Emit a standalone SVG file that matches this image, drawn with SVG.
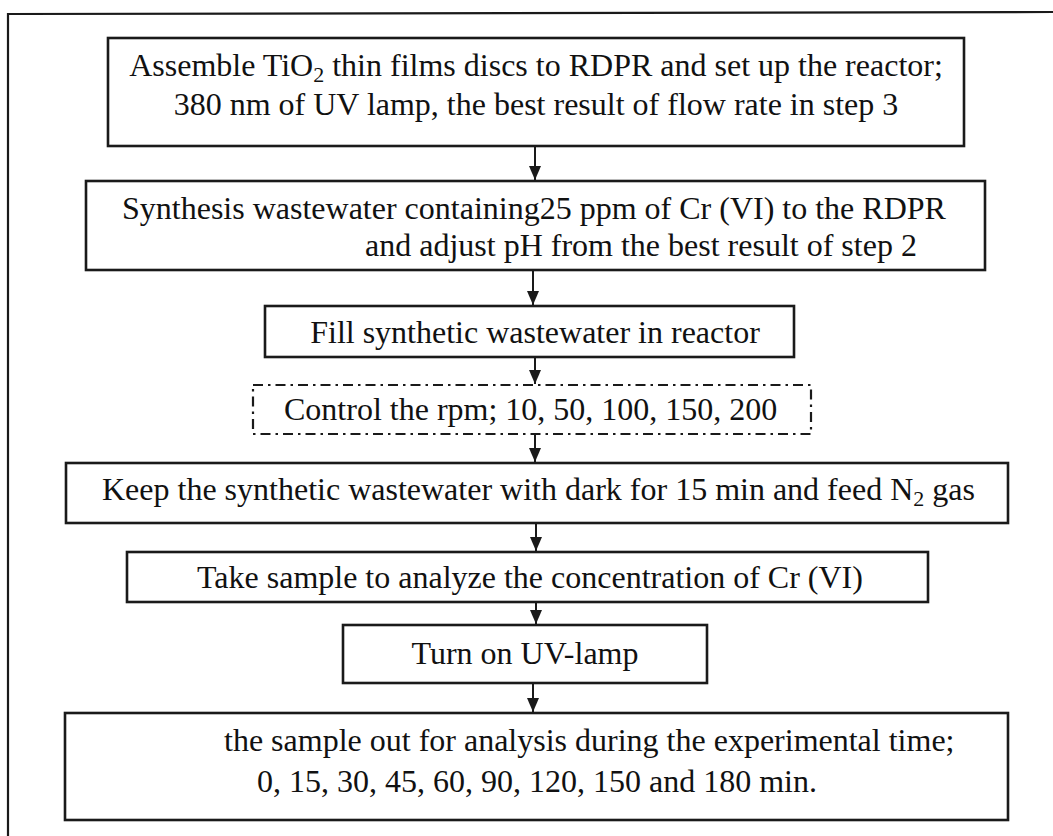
<svg xmlns="http://www.w3.org/2000/svg" width="1053" height="836" viewBox="0 0 1053 836">
  <style>
    .box { fill: #ffffff; stroke: #1a1a1a; stroke-width: 2.6; }
    .dash { fill: #ffffff; stroke: #1a1a1a; stroke-width: 2.2; stroke-dasharray: 10 5 2.5 5; }
    .frame { fill: none; stroke: #1a1a1a; stroke-width: 2.2; }
    .t { font-family: "Liberation Serif", "Times New Roman", serif; font-size: 32px; fill: #111111; }
    .c { text-anchor: middle; }
    .link { fill: none; stroke: #1a1a1a; stroke-width: 2; marker-end: url(#head); }
  </style>
  <defs>
    <!-- solid triangular arrowhead, tip at the end of the line -->
    <marker id="head" viewBox="0 0 14 12" refX="14" refY="6" markerWidth="14" markerHeight="12" markerUnits="userSpaceOnUse" orient="auto">
      <path d="M0,0 L14,6 L0,12 Z" fill="#1a1a1a"/>
    </marker>
  </defs>

  <rect width="1053" height="836" fill="#ffffff"/>

  <!-- page frame: top and left rules only -->
  <path class="frame" d="M8,836 L8,14 L1053,12"/>

  <g id="connectors">
    <line class="link" x1="535" y1="147" x2="535" y2="180"/>
    <line class="link" x1="533" y1="271" x2="533" y2="305"/>
    <line class="link" x1="535" y1="358" x2="535" y2="384"/>
    <line class="link" x1="535" y1="435" x2="535" y2="462"/>
    <line class="link" x1="536" y1="524" x2="536" y2="551"/>
    <line class="link" x1="536" y1="603" x2="536" y2="624"/>
    <line class="link" x1="533" y1="684" x2="533" y2="712"/>
  </g>

  <g id="step-assemble">
    <rect class="box" x="108" y="38" width="856" height="108"/>
    <text class="t c" x="536" y="76">Assemble TiO<tspan font-size="22" dy="6">2</tspan><tspan dy="-6"> thin films discs to RDPR and set up the reactor;</tspan></text>
    <text class="t c" x="536" y="115">380 nm of UV lamp, the best result of flow rate in step 3</text>
  </g>

  <g id="step-synthesis">
    <rect class="box" x="86" y="181" width="899" height="89"/>
    <text class="t" x="122" y="219">Synthesis wastewater containing25 ppm of Cr (VI) to the RDPR</text>
    <text class="t" x="365" y="256">and adjust pH from the best result of step 2</text>
  </g>

  <g id="step-fill">
    <rect class="box" x="265" y="306" width="529" height="51"/>
    <text class="t c" x="535" y="343">Fill synthetic wastewater in reactor</text>
  </g>

  <g id="step-rpm">
    <rect class="dash" x="253" y="385" width="558" height="49"/>
    <text class="t" x="284" y="420">Control the rpm; 10, 50, 100, 150, 200</text>
  </g>

  <g id="step-dark">
    <rect class="box" x="66" y="463" width="942" height="60"/>
    <text class="t" x="102" y="500">Keep the synthetic wastewater with dark for 15 min and feed N<tspan font-size="22" dy="6">2</tspan><tspan dy="-6"> gas</tspan></text>
  </g>

  <g id="step-sample">
    <rect class="box" x="127" y="552" width="801" height="50"/>
    <text class="t" x="197" y="588">Take sample to analyze the concentration of Cr (VI)</text>
  </g>

  <g id="step-uv">
    <rect class="box" x="343" y="625" width="364" height="58"/>
    <text class="t c" x="525" y="664">Turn on UV-lamp</text>
  </g>

  <g id="step-analysis">
    <rect class="box" x="65" y="713" width="943" height="107"/>
    <text class="t" x="224" y="751">the sample out for analysis during the experimental time;</text>
    <text class="t" x="257" y="792">0, 15, 30, 45, 60, 90, 120, 150 and 180 min.</text>
  </g>
</svg>
